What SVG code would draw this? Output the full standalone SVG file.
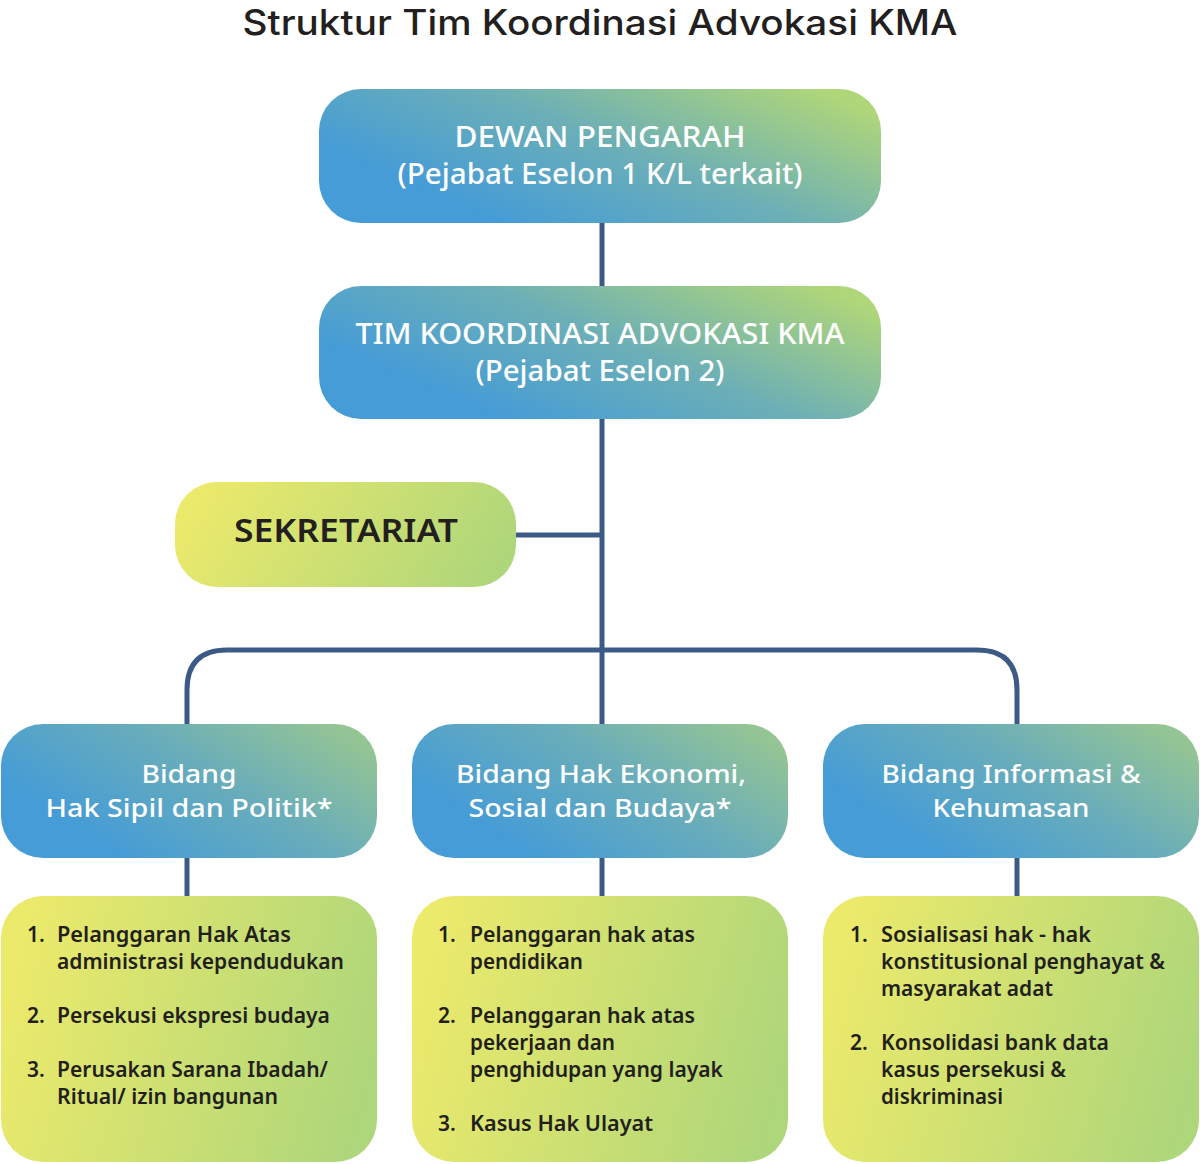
<svg xmlns="http://www.w3.org/2000/svg" width="1200" height="1164" viewBox="0 0 1200 1164">
<defs>
<linearGradient id="gBlue" x1="0.1" y1="0.7" x2="1" y2="0.2">
<stop offset="0.05" stop-color="#459CD6"/>
<stop offset="0.5" stop-color="#6CAFB6"/>
<stop offset="1" stop-color="#AFD679"/>
</linearGradient>
<linearGradient id="gBlue2" x1="0.1" y1="0.7" x2="1" y2="0.2">
<stop offset="0.05" stop-color="#459CD6"/>
<stop offset="0.55" stop-color="#69ADBA"/>
<stop offset="1" stop-color="#95C594"/>
</linearGradient>
<linearGradient id="gYel" x1="0" y1="0.4" x2="1" y2="0.6">
<stop offset="0" stop-color="#ECEA6B"/>
<stop offset="1" stop-color="#AED67A"/>
</linearGradient>
<style>
.title{font-family:Inter,"Noto Sans","Liberation Sans",sans-serif;font-size:35px;font-weight:500;fill:#231F20;text-anchor:middle}
.wt{font-family:"Noto Sans","Liberation Sans",sans-serif;font-size:28px;font-weight:500;fill:#fff;text-anchor:middle}
.wb{font-family:"Noto Sans","Liberation Sans",sans-serif;font-size:26px;font-weight:500;fill:#fff;text-anchor:middle}
.dk{font-family:"Noto Sans","Liberation Sans",sans-serif;font-size:21px;font-weight:600;fill:#231F20}
.sek{font-family:"Noto Sans","Liberation Sans",sans-serif;font-size:32px;font-weight:600;fill:#231F20;text-anchor:middle}
.ln{fill:none;stroke:#3B5A85;stroke-width:5}
</style>
</defs>
<text class="title" x="600" y="35" textLength="715" lengthAdjust="spacingAndGlyphs">Struktur Tim Koordinasi Advokasi KMA</text>
<g id="connectors">
<line class="ln" x1="602" y1="223" x2="602" y2="286"/>
<line class="ln" x1="602" y1="419" x2="602" y2="724"/>
<line class="ln" x1="516" y1="535" x2="602" y2="535"/>
<path class="ln" d="M187,724 V690 Q187,650 227,650 H977 Q1017,650 1017,690 V724"/>
<line class="ln" x1="187" y1="858" x2="187" y2="896"/>
<line class="ln" x1="602" y1="858" x2="602" y2="896"/>
<line class="ln" x1="1017" y1="858" x2="1017" y2="896"/>
</g>
<g id="dewan">
<rect x="319" y="89" width="562" height="134" rx="42" fill="url(#gBlue)"/>
<text class="wt" x="600" y="147" textLength="291" lengthAdjust="spacingAndGlyphs">DEWAN PENGARAH</text>
<text class="wt" x="600" y="184" textLength="405" lengthAdjust="spacingAndGlyphs">(Pejabat Eselon 1 K/L terkait)</text>
</g>
<g id="tim">
<rect x="319" y="286" width="562" height="133" rx="42" fill="url(#gBlue)"/>
<text class="wt" x="600" y="344" textLength="489" lengthAdjust="spacingAndGlyphs">TIM KOORDINASI ADVOKASI KMA</text>
<text class="wt" x="600" y="381" textLength="249" lengthAdjust="spacingAndGlyphs">(Pejabat Eselon 2)</text>
</g>
<g id="sekretariat">
<rect x="175" y="482" width="341" height="105" rx="42" fill="url(#gYel)"/>
<text class="sek" x="346" y="542" textLength="224" lengthAdjust="spacingAndGlyphs">SEKRETARIAT</text>
</g>
<g id="bidang1">
<rect x="1" y="724" width="376" height="134" rx="42" fill="url(#gBlue2)"/>
<text class="wb" x="189" y="783" textLength="95" lengthAdjust="spacingAndGlyphs">Bidang</text>
<text class="wb" x="189" y="817" textLength="287" lengthAdjust="spacingAndGlyphs">Hak Sipil dan Politik*</text>
</g>
<g id="bidang2">
<rect x="412" y="724" width="376" height="134" rx="42" fill="url(#gBlue2)"/>
<text class="wb" x="601" y="783" textLength="290" lengthAdjust="spacingAndGlyphs">Bidang Hak Ekonomi,</text>
<text class="wb" x="600" y="817" textLength="263" lengthAdjust="spacingAndGlyphs">Sosial dan Budaya*</text>
</g>
<g id="bidang3">
<rect x="823" y="724" width="376" height="134" rx="42" fill="url(#gBlue2)"/>
<text class="wb" x="1011" y="783" textLength="259" lengthAdjust="spacingAndGlyphs">Bidang Informasi &amp;</text>
<text class="wb" x="1011" y="817" textLength="157" lengthAdjust="spacingAndGlyphs">Kehumasan</text>
</g>
<g id="list1">
<rect x="1" y="896" width="376" height="266" rx="42" fill="url(#gYel)"/>
<text class="dk" x="27" y="942">1.</text>
<text class="dk" x="57" y="942" textLength="234" lengthAdjust="spacingAndGlyphs">Pelanggaran Hak Atas</text>
<text class="dk" x="57" y="969" textLength="287" lengthAdjust="spacingAndGlyphs">administrasi kependudukan</text>
<text class="dk" x="27" y="1023">2.</text>
<text class="dk" x="57" y="1023" textLength="273" lengthAdjust="spacingAndGlyphs">Persekusi ekspresi budaya</text>
<text class="dk" x="27" y="1077">3.</text>
<text class="dk" x="57" y="1077" textLength="271" lengthAdjust="spacingAndGlyphs">Perusakan Sarana Ibadah/</text>
<text class="dk" x="57" y="1104" textLength="221" lengthAdjust="spacingAndGlyphs">Ritual/ izin bangunan</text>
</g>
<g id="list2">
<rect x="412" y="896" width="376" height="266" rx="42" fill="url(#gYel)"/>
<text class="dk" x="438" y="942">1.</text>
<text class="dk" x="470" y="942" textLength="225" lengthAdjust="spacingAndGlyphs">Pelanggaran hak atas</text>
<text class="dk" x="470" y="969" textLength="113" lengthAdjust="spacingAndGlyphs">pendidikan</text>
<text class="dk" x="438" y="1023">2.</text>
<text class="dk" x="470" y="1023" textLength="225" lengthAdjust="spacingAndGlyphs">Pelanggaran hak atas</text>
<text class="dk" x="470" y="1050" textLength="145" lengthAdjust="spacingAndGlyphs">pekerjaan dan</text>
<text class="dk" x="470" y="1077" textLength="253" lengthAdjust="spacingAndGlyphs">penghidupan yang layak</text>
<text class="dk" x="438" y="1131">3.</text>
<text class="dk" x="470" y="1131" textLength="183" lengthAdjust="spacingAndGlyphs">Kasus Hak Ulayat</text>
</g>
<g id="list3">
<rect x="823" y="896" width="376" height="266" rx="42" fill="url(#gYel)"/>
<text class="dk" x="850" y="942">1.</text>
<text class="dk" x="881" y="942" textLength="210" lengthAdjust="spacingAndGlyphs">Sosialisasi hak - hak</text>
<text class="dk" x="881" y="969" textLength="284" lengthAdjust="spacingAndGlyphs">konstitusional penghayat &amp;</text>
<text class="dk" x="881" y="996" textLength="172" lengthAdjust="spacingAndGlyphs">masyarakat adat</text>
<text class="dk" x="850" y="1050">2.</text>
<text class="dk" x="881" y="1050" textLength="228" lengthAdjust="spacingAndGlyphs">Konsolidasi bank data</text>
<text class="dk" x="881" y="1077" textLength="185" lengthAdjust="spacingAndGlyphs">kasus persekusi &amp;</text>
<text class="dk" x="881" y="1104" textLength="122" lengthAdjust="spacingAndGlyphs">diskriminasi</text>
</g>
</svg>
